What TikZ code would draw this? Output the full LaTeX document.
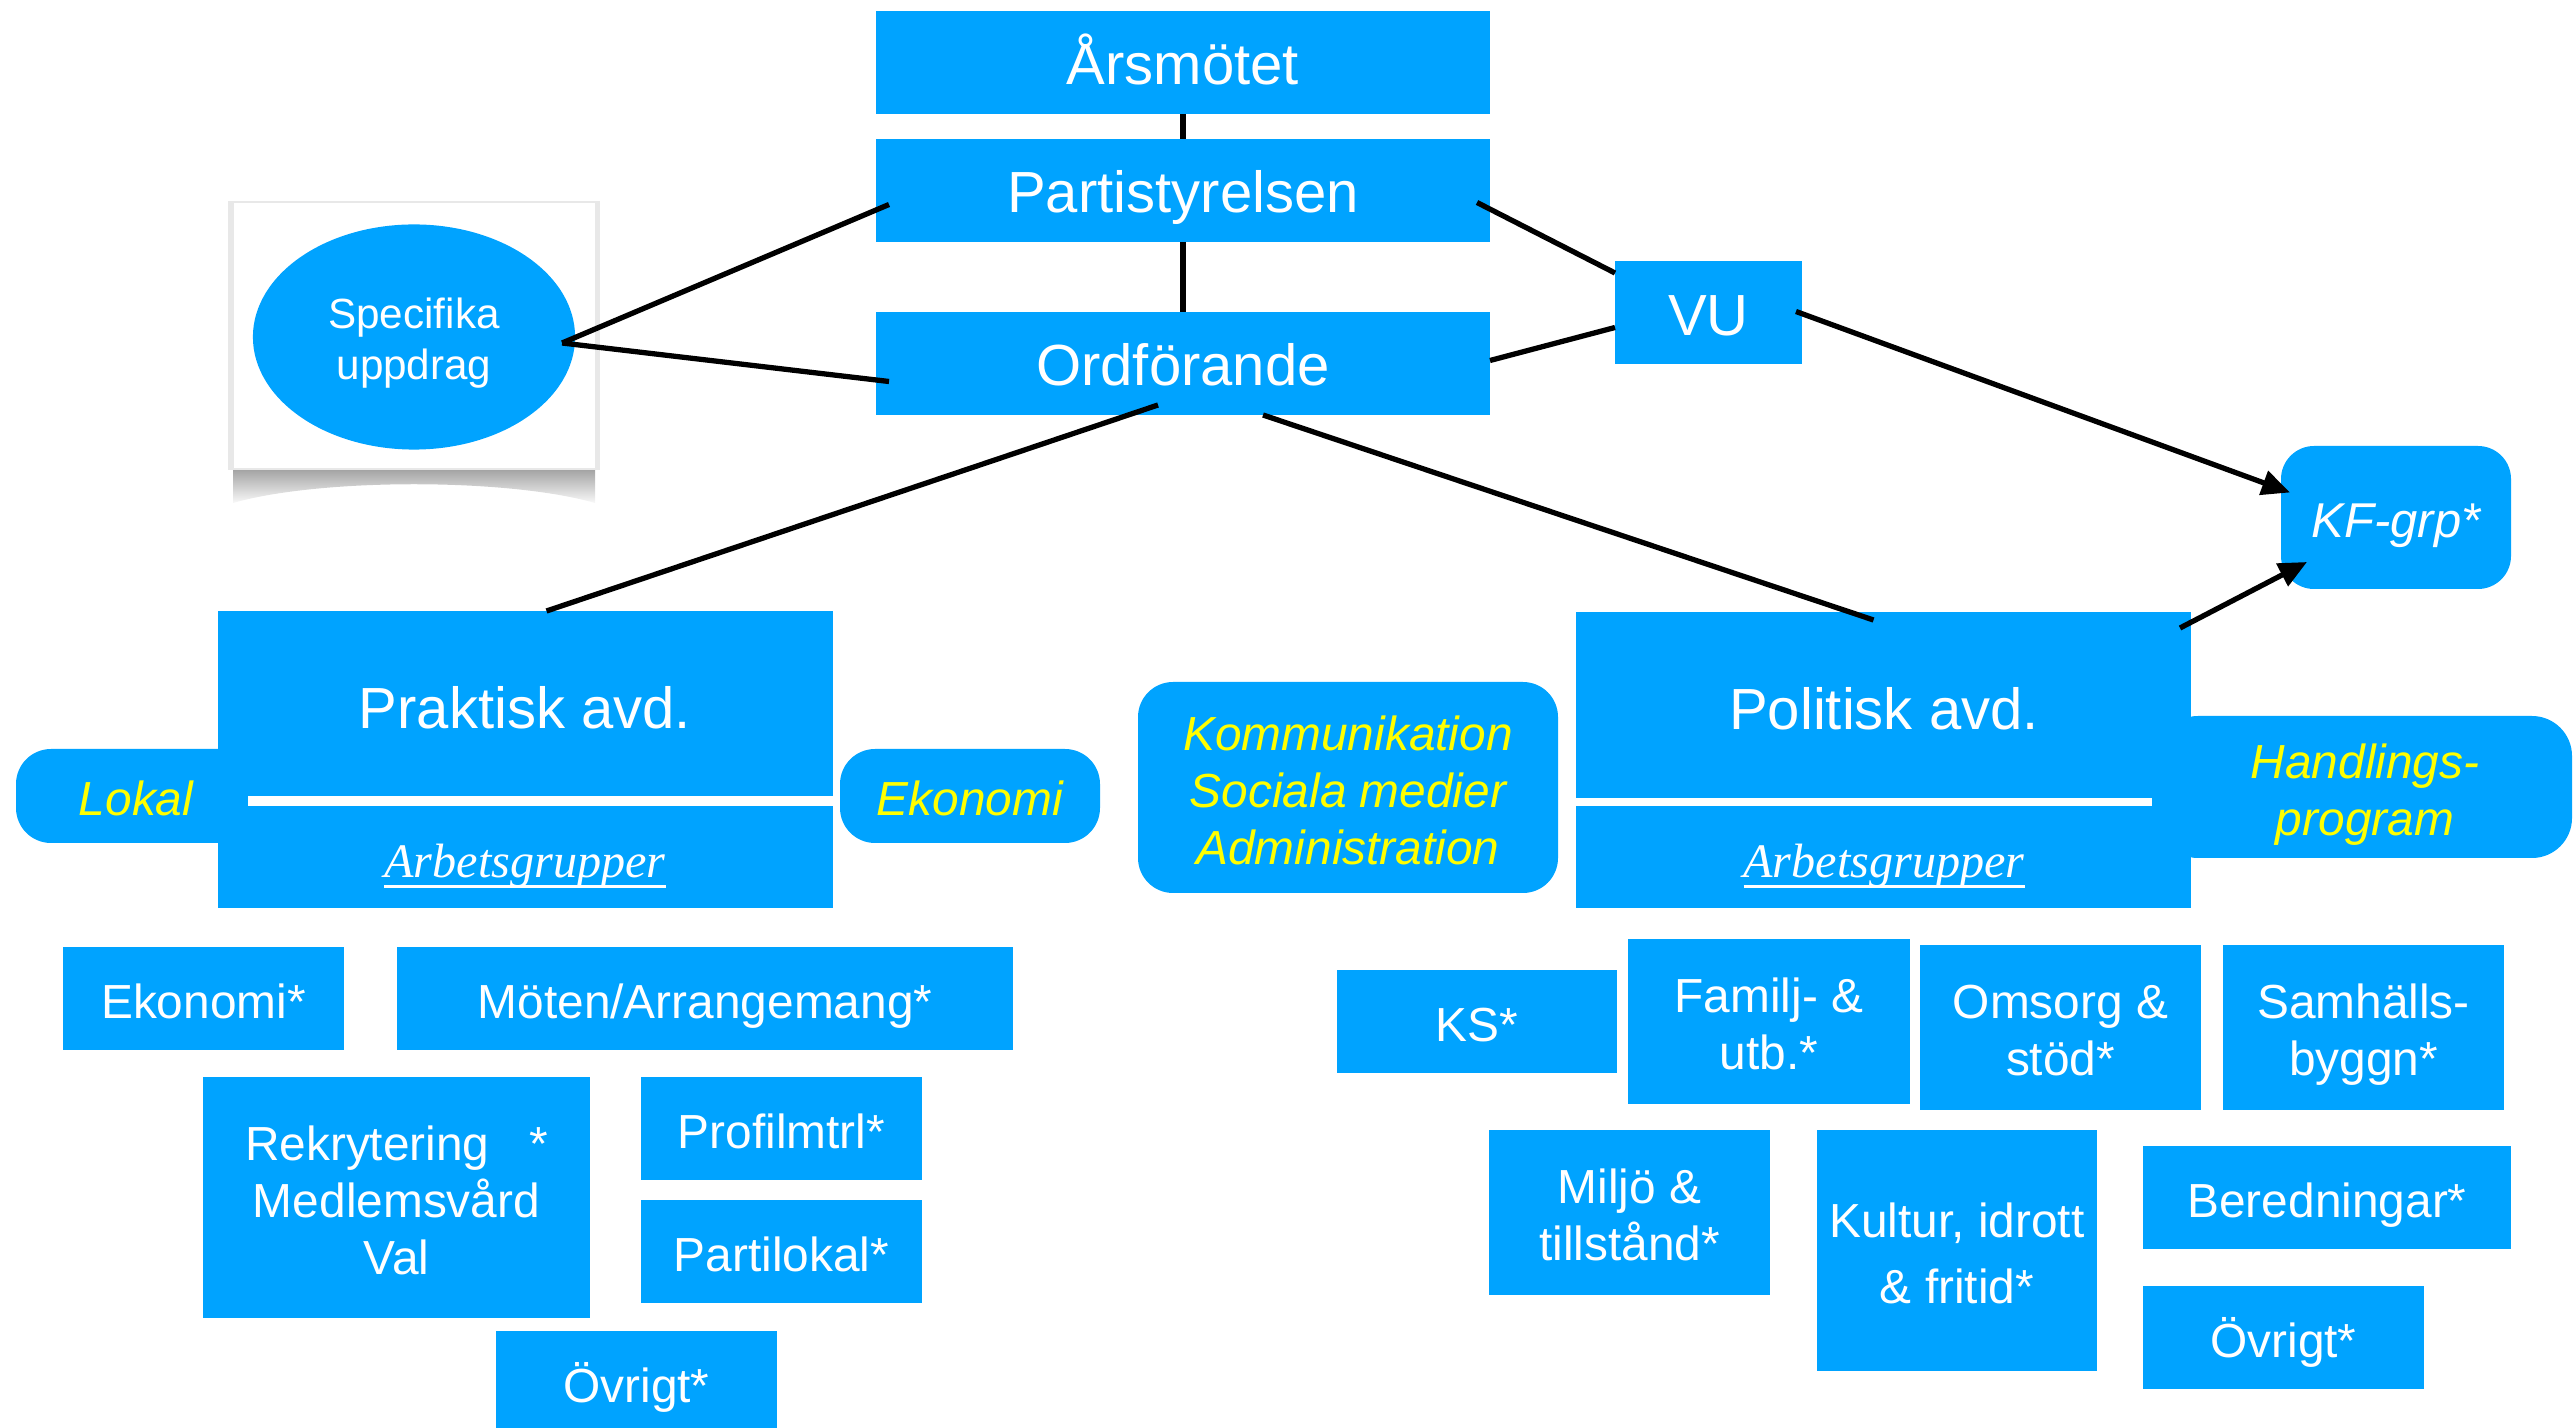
\documentclass[tikz,border=0pt]{standalone}
\usepackage{fontspec}
\setmainfont{Liberation Sans}
\newfontfamily\serifit{Liberation Serif}
\usetikzlibrary{shapes.geometric,arrows.meta,calc}
\definecolor{boxblue}{RGB}{0,163,255}
\definecolor{txtyellow}{RGB}{255,255,0}
\newcommand\rbox[7]{%
  \node[#6, minimum width={(#4-#2)*0.01cm}, minimum height={(#5-#3)*0.01cm}] (#1) at ({(#2+#4)/2},{(#3+#5)/2}) {#7};}
\newcommand\ulin[1]{\setbox0=\hbox{#1}\rlap{\rule[-0.2em]{\wd0}{0.06em}}\box0}
\tikzset{
  blk/.style={fill=boxblue, draw=none, inner sep=0pt, outer sep=0pt, text=white, align=center,
    font=\fontsize{13.6}{16.2}\selectfont, text height=11.25pt, text depth=0pt},
  big/.style={blk, font=\fontsize{16.5}{19.8}\selectfont, text height=12.8pt, text depth=0pt},
  rnd/.style={blk, rounded corners=0.35cm, text=txtyellow, font=\fontsize{13.6}{16.2}\selectfont\itshape},
  two/.style={text height=27.45pt, text depth=0pt},
  three/.style={text height=43.65pt, text depth=0pt},
  lbl/.style={inner sep=0pt, outer sep=0pt, text=white, align=center},
  conn/.style={line width=1.5pt, black},
  arr/.style={conn, -{Triangle[length=8pt,width=7pt]}},
}
\begin{document}
\begin{tikzpicture}[x=0.01cm, y=-0.01cm]
\useasboundingbox (0,0) rectangle (2575,1428);
% Specifika framed picture
\shade[top color=gray!75, bottom color=gray!5] (233,468) -- (233,503) .. controls (320,478) and (508,478) .. (595,503) -- (595,468) -- cycle;
\fill[gray!18] (228,201) rectangle (600,470);
\fill[white] (234,203) rectangle (595,468);
\node[ellipse, fill=boxblue, minimum width=3.22cm, minimum height=2.25cm, inner sep=0pt, outer sep=0pt,
  text=white, align=center, font=\fontsize{12}{14.5}\selectfont, text height=24.1pt, text depth=0pt] (spec) at (414,337) {Specifika\\uppdrag};
% top hierarchy
\rbox{ars}{876}{11}{1490}{114}{big}{Årsmötet}
\rbox{part}{876}{139}{1490}{242}{big}{Partistyrelsen}
\rbox{ord}{876}{312}{1490}{415}{big}{Ordförande}
\rbox{vu}{1615}{261}{1802}{364}{big}{VU}
\rbox{kf}{2281}{446}{2511}{589}{blk, rounded corners=0.33cm, font=\fontsize{13.9}{16.5}\selectfont\itshape}{KF-grp*}
% side rounded boxes (behind departments)
\rbox{lokal}{16}{749}{256}{843}{rnd}{Lokal}
\rbox{ekon}{840}{749}{1100}{843}{rnd}{Ekonomi}
\rbox{komm}{1138}{682}{1558}{893}{rnd, three}{Kommunikation\\Sociala medier\\Administration}
\rbox{hand}{2158}{716}{2572}{858}{rnd, two, rounded corners=0.4cm}{Handlings-\\program}
% departments
\rbox{prak}{218}{611}{833}{908}{blk}{}
\rbox{pol}{1576}{612}{2191}{908}{blk}{}
\fill[white] (248,796) rectangle (833,806);
\fill[white] (1576,798) rectangle (2152,806);
\node[lbl, font=\fontsize{16.5}{19.8}\selectfont, text height=11.8pt, text depth=0pt] (praklbl) at (525,708) {Praktisk avd.};
\node[lbl, font=\fontsize{16.5}{19.8}\selectfont, text height=11.8pt, text depth=0pt] (pollbl) at (1884,709) {Politisk avd.};
\node[lbl, anchor=base, font=\fontsize{13.7}{16}\selectfont\serifit\itshape] (prakarb) at (525,878) {\ulin{Arbetsgrupper}};
\node[lbl, anchor=base, font=\fontsize{13.7}{16}\selectfont\serifit\itshape] (polarb) at (1884,878) {\ulin{Arbetsgrupper}};
% practical work groups
\rbox{eko}{63}{947}{344}{1050}{blk}{Ekonomi*}
\rbox{mot}{397}{947}{1013}{1050}{blk}{Möten/Arrangemang*}
\rbox{rek}{203}{1077}{590}{1318}{blk, three}{Rekrytering\hspace{0.83em}*\\Medlemsvård\\Val}
\rbox{prof}{641}{1077}{922}{1180}{blk}{Profilmtrl*}
\rbox{plok}{641}{1200}{922}{1303}{blk}{Partilokal*}
\rbox{ovr1}{496}{1331}{777}{1434}{blk}{Övrigt*}
% political work groups
\rbox{ks}{1337}{970}{1617}{1073}{blk}{KS*}
\rbox{fam}{1628}{939}{1910}{1104}{blk, two}{Familj- \&\\utb.*}
\rbox{oms}{1920}{945}{2201}{1110}{blk, two}{Omsorg \&\\stöd*}
\rbox{sam}{2223}{945}{2504}{1110}{blk, two}{Samhälls-\\byggn*}
\rbox{mil}{1489}{1130}{1770}{1295}{blk, two}{Miljö \&\\tillstånd*}
\rbox{kul}{1817}{1130}{2097}{1371}{blk, font=\fontsize{13.6}{18.8}\selectfont, text height=30.05pt, text depth=0pt}{Kultur, idrott\\\& fritid*}
\rbox{ber}{2143}{1146}{2511}{1249}{blk}{Beredningar*}
\rbox{ovr2}{2143}{1286}{2424}{1389}{blk}{Övrigt*}
% connectors
\draw[conn] (ars.south) -- (part.north);
\draw[conn] (part.south) -- (ord.north);
\draw[conn] ($(part.east)+(-13,12)$) -- ($(vu.north west)+(0,12)$);
\draw[conn] ($(ord.east)+(0,-3)$) -- ($(vu.west)+(0,15)$);
\draw[arr] ($(vu.east)+(-6,-1)$) -- ($(kf.west)+(9,-25)$);
\draw[conn] ($(spec.east)+(-13,6)$) -- ($(part.west)+(13,14)$);
\draw[conn] ($(spec.east)+(-13,6)$) -- ($(ord.west)+(13,18)$);
\draw[conn] ($(ord.south)+(-25,-10)$) -- ($(prak.north)+(21,0)$);
\draw[conn] ($(ord.south)+(80,0)$) -- ($(pol.north)+(-10,8)$);
\draw[arr] ($(pol.north east)+(-11,16)$) -- ($(kf.south west)+(26,-27)$);
\end{tikzpicture}
\end{document}
